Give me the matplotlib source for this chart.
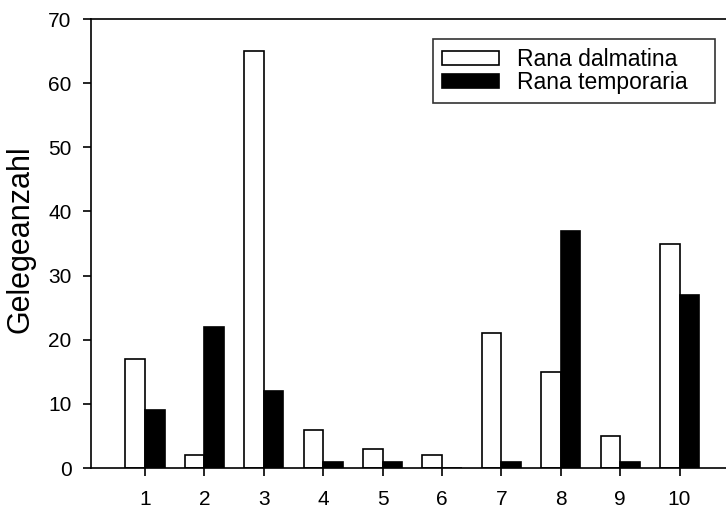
import matplotlib.pyplot as plt
import numpy as np

plt.rcParams['font.family'] = ['Liberation Sans', 'DejaVu Sans']

# Gelegeanzahl pro Gewässer
gewaesser = [1, 2, 3, 4, 5, 6, 7, 8, 9, 10]
rana_dalmatina = [17, 2, 65, 6, 3, 2, 21, 15, 5, 35]
rana_temporaria = [9, 22, 12, 1, 1, 0, 1, 37, 1, 27]

x = np.array(gewaesser, dtype=float)
w = 0.33

fig = plt.figure(figsize=(7.26, 5.14), dpi=100)
ax = fig.add_axes([91 / 726, 1 - 468 / 514, (733 - 91) / 726, (468 - 19) / 514])

ax.bar(x - w / 2, rana_dalmatina, w, color='white', edgecolor='black',
       linewidth=1.2, label='Rana dalmatina')
ax.bar(x + w / 2, rana_temporaria, w, color='black', edgecolor='black',
       linewidth=1.2, label='Rana temporaria')

ax.set_xlim(0.09, 10.9)
ax.set_ylim(0, 70)
ax.set_xticks(x)
ax.set_xticklabels([str(g) for g in gewaesser])
ax.set_yticks(range(0, 71, 10))
ax.tick_params(direction='out', length=6, width=1.2, labelsize=15)
ax.tick_params(axis='y', pad=8)
ax.tick_params(axis='x', pad=10)
ax.spines['right'].set_visible(False)
for s in ['left', 'bottom', 'top']:
    ax.spines[s].set_linewidth(1.2)

ax.set_ylabel('Gelegeanzahl', fontsize=22)
ax.yaxis.set_label_coords(-0.087, 0.51)

leg = fig.legend(loc='upper left',
                 bbox_to_anchor=(433 / 726, 1 - 92 / 514, (715 - 433) / 726, 53 / 514),
                 mode='expand', fontsize=16.5, frameon=True, fancybox=False,
                 edgecolor='black', handlelength=2.5, handleheight=0.6,
                 borderpad=0.4, labelspacing=0.0, handletextpad=0.75,
                 borderaxespad=0)
leg.get_frame().set_linewidth(1.2)

fig.savefig('out.png', dpi=100)
